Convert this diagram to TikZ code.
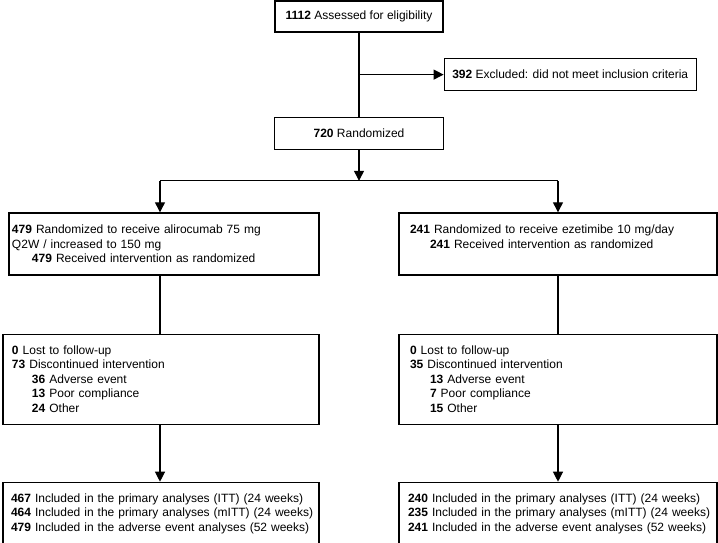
\documentclass[tikz,border=0pt]{standalone}
\usepackage{fontspec}
\setmainfont{Liberation Sans}
\usetikzlibrary{positioning,arrows.meta}

\begin{document}
\begin{tikzpicture}[
	node distance=30pt and 30pt,
	line width=1.2pt,
	flowbox/.style={draw,line width=1.2pt,inner sep=0pt,font=\fontsize{12}{14.5}\selectfont},
	listbox/.style={flowbox,align=left},
	arrowline/.style={-{Triangle[width=10pt,length=10pt]}}
	]
	\useasboundingbox (0,0) rectangle (718pt,-542pt);
	\node[flowbox,minimum width=168pt,minimum height=31pt] (assessed) at (359pt,-16.5pt) {\textbf{1112} Assessed for eligibility};
	\coordinate[below=42pt of assessed] (split);
	\node[flowbox,minimum width=252pt,minimum height=32pt,anchor=west] (excluded) at (split -| assessed.east) {\textbf{392} Excluded: did not meet inclusion criteria};
	\node[flowbox,minimum width=169pt,minimum height=32pt,below=84pt of assessed] (randomized) {\textbf{720} Randomized};
	\coordinate[below=31pt of randomized] (branch);
	\coordinate[left=199pt of branch] (branchleft);
	\coordinate[right=199pt of branch] (branchright);
	\node[listbox,text width=304pt,inner xsep=3pt,minimum height=62pt,below=31.5pt of branchleft,xshift=4pt] (alirocumab)
	{\textbf{479} Randomized to receive alirocumab 75 mg\\
		Q2W / increased to 150 mg\\
		\hspace*{20pt}\textbf{479} Received intervention as randomized};
	\node[listbox,text width=296pt,inner xsep=11pt,minimum height=62pt,below=31.5pt of branchright] (ezetimibe)
	{\textbf{241} Randomized to receive ezetimibe 10 mg/day\\
		\hspace*{20pt}\textbf{241} Received intervention as randomized\\
		\mbox{}};
	\node[listbox,text width=298pt,inner xsep=9pt,minimum height=90pt,below=58pt of alirocumab,xshift=-3pt] (lostalirocumab)
	{\textbf{0} Lost to follow-up\\
		\textbf{73} Discontinued intervention\\
		\hspace*{20pt}\textbf{36} Adverse event\\
		\hspace*{20pt}\textbf{13} Poor compliance\\
		\hspace*{20pt}\textbf{24} Other};
	\node[listbox,text width=296pt,inner xsep=11pt,minimum height=90pt,below=58pt of ezetimibe] (lostezetimibe)
	{\textbf{0} Lost to follow-up\\
		\textbf{35} Discontinued intervention\\
		\hspace*{20pt}\textbf{13} Adverse event\\
		\hspace*{20pt}\textbf{7} Poor compliance\\
		\hspace*{20pt}\textbf{15} Other};
	\node[listbox,text width=300pt,inner xsep=8pt,minimum height=63pt,below=57pt of lostalirocumab] (analysedalirocumab)
	{\mbox{\textbf{467} Included in the primary analyses (ITT) (24 weeks)}\\
		\mbox{\textbf{464} Included in the primary analyses (mITT) (24 weeks)}\\
		\mbox{\textbf{479} Included in the adverse event analyses (52 weeks)}};
	\node[listbox,text width=300pt,inner xsep=9pt,minimum height=63pt,below=57pt of lostezetimibe] (analysedezetimibe)
	{\mbox{\textbf{240} Included in the primary analyses (ITT) (24 weeks)}\\
		\mbox{\textbf{235} Included in the primary analyses (mITT) (24 weeks)}\\
		\mbox{\textbf{241} Included in the adverse event analyses (52 weeks)}};
	\path [draw]
	(assessed.south) edge (assessed.south |- randomized.north)
	(branchleft) edge (branchright)
	(branchleft |- alirocumab.south) edge (branchleft |- lostalirocumab.north)
	(ezetimibe) edge (lostezetimibe);
	\path [arrowline]
	(split) edge (excluded)
	(randomized) edge (branch)
	(branchleft) edge (branchleft |- alirocumab.north)
	(branchright) edge (ezetimibe)
	(branchleft |- lostalirocumab.south) edge (branchleft |- analysedalirocumab.north)
	(lostezetimibe) edge (analysedezetimibe);
\end{tikzpicture}
\end{document}
